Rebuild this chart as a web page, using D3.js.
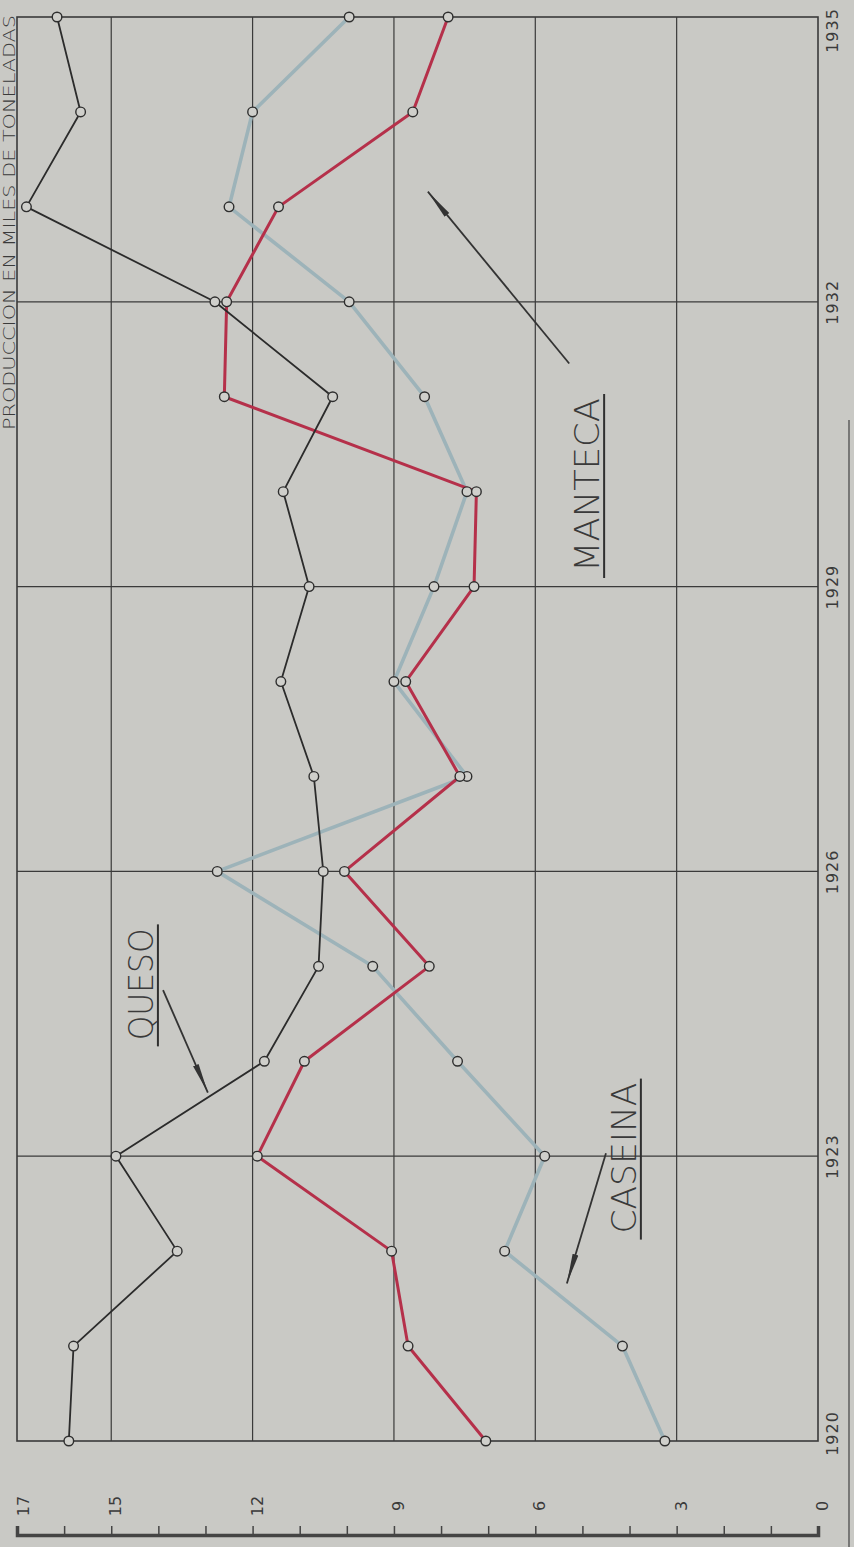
<!DOCTYPE html>
<html>
<head>
<meta charset="utf-8">
<script src="https://cdn.jsdelivr.net/npm/d3@7"></script>
<style>
  html, body { margin: 0; padding: 0; background: #c9c9c5; }
  svg { display: block; }
  text { font-family: "DejaVu Sans", "Liberation Sans", sans-serif; fill: #3a3a3a; }
</style>
</head>
<body>
<svg id="chart" width="854" height="1547"></svg>
<script>
// production, thousands of tonnes
const years   = [1920, 1921, 1922, 1923, 1924, 1925, 1926, 1927, 1928, 1929, 1930, 1931, 1932, 1933, 1934, 1935];
const queso   = [15.9, 15.8, 13.6, 14.9, 11.75, 10.6, 10.5, 10.7, 11.4, 10.8, 11.35, 10.3, 12.8, 16.8, 15.65, 16.15];
const manteca = [7.05, 8.7, 9.05, 11.9, 10.9, 8.25, 10.05, 7.6, 8.75, 7.3, 7.25, 12.6, 12.55, 11.45, 8.6, 7.85];
const caseina = [3.25, 4.15, 6.65, 5.8, 7.65, 9.45, 12.75, 7.45, 9.0, 8.15, 7.45, 8.35, 9.95, 12.5, 12.0, 9.95];

const yearTicks  = [1920, 1923, 1926, 1929, 1932, 1935];
const valueTicks = [17, 15, 12, 9, 6, 3, 0];
const valueGrid  = [15, 12, 9, 6, 3];
const yearGrid   = [1923, 1926, 1929, 1932];

const title = "PRODUCCION EN MILES DE TONELADAS";
// label: text, [value, year] centre, arrow from / to in [value, year]
const labels = [
  { text: "QUESO",   at: [14.37, 1924.81], len: 112, from: [13.9, 1924.75], to: [12.95, 1923.67] },
  { text: "CASEINA", at: [4.12, 1922.98],  len: 151, from: [4.5, 1923.03],  to: [5.33, 1921.66] },
  { text: "MANTECA", at: [4.9, 1930.07],   len: 174, from: [5.28, 1931.35], to: [8.28, 1933.16] }
];

const svg = d3.select("#chart");
const W = 854, H = 1547;

// chart is drawn turned on its side: years run upward, tonnes run leftward
const x = d3.scaleLinear([0, 17], [818, 17]);
const y = d3.scaleLinear([1920, 1935], [1441, 17]);

const series = [
  { name: "caseina", values: caseina, color: "#9db3b9", width: 3.6 },
  { name: "manteca", values: manteca, color: "#b5304a", width: 3 },
  { name: "queso",   values: queso,   color: "#2b2b2b", width: 1.8 }
];

// grid
const grid = svg.append("g").attr("stroke", "#3a3a3a").attr("stroke-width", 1.2);
grid.selectAll(".vg").data(valueGrid).join("line")
  .attr("x1", d => x(d)).attr("x2", d => x(d))
  .attr("y1", y(1935)).attr("y2", y(1920));
grid.selectAll(".hg").data(yearGrid).join("line")
  .attr("x1", x(17)).attr("x2", x(0))
  .attr("y1", d => y(d)).attr("y2", d => y(d));
grid.append("rect")
  .attr("x", x(17)).attr("y", y(1935))
  .attr("width", x(0) - x(17)).attr("height", y(1920) - y(1935))
  .attr("fill", "none").attr("stroke-width", 1.6);

// page edge line on the right
svg.append("line")
  .attr("x1", 849).attr("x2", 849).attr("y1", 420).attr("y2", H)
  .attr("stroke", "#555").attr("stroke-width", 1.4);

// year axis (right side); end labels nudged inward to stay on the page
const nudge = d => d === 1935 ? 13 : d === 1920 ? -8 : 0;
svg.append("g")
  .attr("transform", `translate(${x(0)},0)`)
  .call(d3.axisRight(y).tickValues(yearTicks).tickSize(0).tickFormat(d3.format("d")))
  .call(g => g.select(".domain").remove())
  .call(g => g.selectAll("text")
    .attr("x", 0).attr("dy", null)
    .attr("transform", d => `translate(14,${nudge(d)}) rotate(-90)`)
    .attr("text-anchor", "middle")
    .attr("dominant-baseline", "central")
    .style("font-size", "16px")
    .style("font-family", "'DejaVu Sans', sans-serif")
    .style("letter-spacing", "1px")
    .attr("fill", "#3a3a3a"));

// tonnes axis (bottom): integer ticks on a heavy rule
const axisY = 1535;
svg.append("g")
  .attr("transform", `translate(0,${axisY})`)
  .call(d3.axisTop(x).tickValues(d3.range(0, 18)).tickSize(9).tickFormat(""))
  .call(g => g.select(".domain").attr("stroke", "#444").attr("stroke-width", 3.5))
  .call(g => g.selectAll(".tick line").attr("stroke", "#444").attr("stroke-width", 1.5));

svg.append("g")
  .attr("transform", `translate(0,1506)`)
  .call(d3.axisBottom(x).tickValues(valueTicks).tickSize(0).tickFormat(d3.format("d")))
  .call(g => g.select(".domain").remove())
  .call(g => g.selectAll("text")
    .attr("y", 0).attr("dy", null)
    .attr("transform", d => `translate(${d === 17 ? 6 : 4},0) rotate(-90)`)
    .attr("text-anchor", "middle")
    .attr("dominant-baseline", "central")
    .style("font-size", "16px")
    .style("font-family", "'DejaVu Sans', sans-serif")
    .attr("fill", "#3a3a3a"));

// lines
const line = d3.line()
  .x(d => x(d.v))
  .y(d => y(d.year));

series.forEach(s => {
  const pts = years.map((yr, i) => ({ year: yr, v: s.values[i] }));
  svg.append("path")
    .datum(pts)
    .attr("fill", "none")
    .attr("stroke", s.color)
    .attr("stroke-width", s.width)
    .attr("stroke-linejoin", "round")
    .attr("stroke-linecap", "round")
    .attr("d", line);
});

// open circle markers
series.forEach(s => {
  svg.append("g").selectAll("circle")
    .data(years.map((yr, i) => ({ year: yr, v: s.values[i] })))
    .join("circle")
      .attr("cx", d => x(d.v))
      .attr("cy", d => y(d.year))
      .attr("r", 4.8)
      .attr("fill", "#cfcfcb")
      .attr("stroke", "#2e2e2e")
      .attr("stroke-width", 1.4);
});

// arrow head
svg.append("defs").append("marker")
  .attr("id", "head")
  .attr("viewBox", "0 0 30 10")
  .attr("refX", 30).attr("refY", 5)
  .attr("markerWidth", 30).attr("markerHeight", 10)
  .attr("markerUnits", "userSpaceOnUse")
  .attr("orient", "auto")
  .append("path")
    .attr("d", "M0,2 L30,5 L0,8 Z")
    .attr("fill", "#333");

// series labels with underline and arrow
labels.forEach(l => {
  const g = svg.append("g")
    .attr("transform", `translate(${x(l.at[0])},${y(l.at[1])}) rotate(-90)`);
  g.append("text")
    .attr("text-anchor", "middle")
    .attr("dominant-baseline", "central")
    .attr("textLength", l.len)
    .attr("lengthAdjust", "spacingAndGlyphs")
    .style("font-size", "34px")
    .style("font-weight", 200)
    .attr("fill", "#2f2f2f")
    .text(l.text);
  g.append("line")
    .attr("x1", -l.len / 2 - 6).attr("x2", l.len / 2 + 4)
    .attr("y1", 17).attr("y2", 17)
    .attr("stroke", "#2f2f2f").attr("stroke-width", 2);

  svg.append("line")
    .attr("x1", x(l.from[0])).attr("y1", y(l.from[1]))
    .attr("x2", x(l.to[0])).attr("y2", y(l.to[1]))
    .attr("stroke", "#333").attr("stroke-width", 1.8)
    .attr("marker-end", "url(#head)");
});

// title along the left page edge
svg.append("text")
  .attr("transform", `translate(15,430) rotate(-90)`)
  .attr("text-anchor", "start")
  .attr("textLength", 415)
  .attr("lengthAdjust", "spacingAndGlyphs")
  .style("font-size", "16px")
  .style("font-weight", 200)
  .attr("fill", "#2f2f2f")
  .text(title);
</script>
</body>
</html>
